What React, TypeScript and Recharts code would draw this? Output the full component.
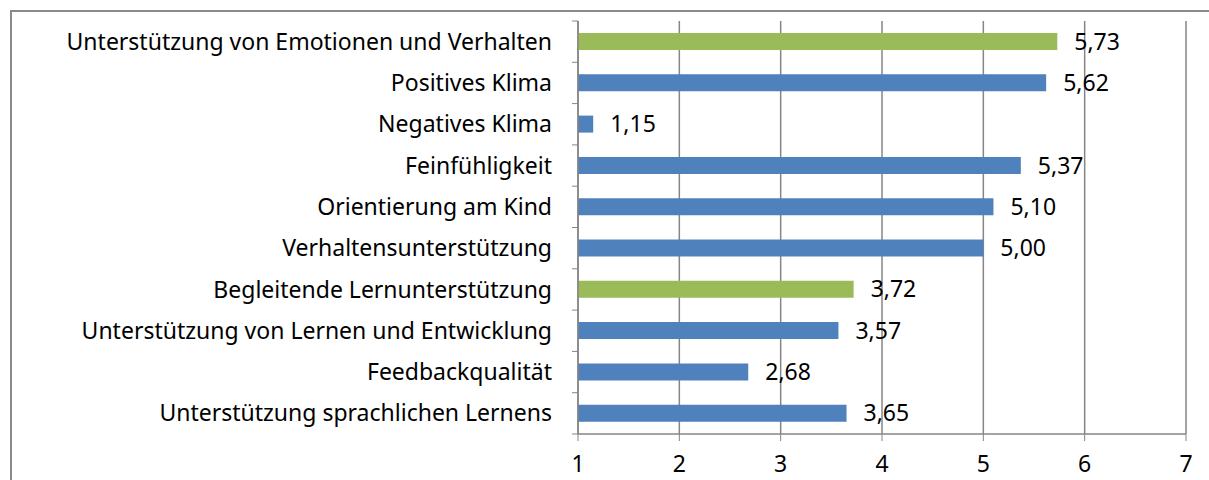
import { BarChart, Bar, XAxis, YAxis, CartesianGrid, Cell, LabelList } from "recharts"

const categories = [
  "Unterstützung von Emotionen und Verhalten",
  "Positives Klima",
  "Negatives Klima",
  "Feinfühligkeit",
  "Orientierung am Kind",
  "Verhaltensunterstützung",
  "Begleitende Lernunterstützung",
  "Unterstützung von Lernen und Entwicklung",
  "Feedbackqualität",
  "Unterstützung sprachlichen Lernens",
]

const scores = [5.73, 5.62, 1.15, 5.37, 5.1, 5.0, 3.72, 3.57, 2.68, 3.65]

// domain summary rows are drawn in green
const summaryRows = ["Unterstützung von Emotionen und Verhalten", "Begleitende Lernunterstützung"]

const xTicks = [1, 2, 3, 4, 5, 6, 7]

const data = categories.map((name, i) => ({ name, value: scores[i] }))

const BLUE = "#4F81BD"
const GREEN = "#9BBB59"
const GRID = "#868686"
const FONT = "'Noto Sans', 'Open Sans', sans-serif"
const FS = 23

const PLOT_TOP = 21
const PLOT_BOTTOM = 434
const BAND = (PLOT_BOTTOM - PLOT_TOP) / categories.length

function CategoryTick({ x, y, payload, index }: { x?: number; y?: number; payload?: { value: string }; index?: number }) {
  const ax = (x ?? 0) + 26
  const cy = y ?? 0
  return (
    <g>
      <line x1={ax - 6} x2={ax} y1={cy - BAND / 2} y2={cy - BAND / 2} stroke={GRID} />
      {index === categories.length - 1 && (
        <line x1={ax - 6} x2={ax} y1={cy + BAND / 2} y2={cy + BAND / 2} stroke={GRID} />
      )}
      <text x={x} y={cy} dy="0.35em" textAnchor="end" fill="#000" fontSize={FS} fontFamily={FONT}>
        {payload?.value}
      </text>
    </g>
  )
}

const fmt = (v: unknown) => Number(v).toFixed(2).replace(".", ",")

export default function App() {
  return (
    <div style={{ position: "fixed", left: 0, top: 0, width: 1209, height: 480, overflow: "hidden", background: "#fff" }}>
      <div
        style={{
          position: "absolute",
          left: 10,
          top: 10,
          width: 1260,
          height: 520,
          border: "2px solid #8a8a8a",
          boxSizing: "border-box",
        }}
      />
      <div style={{ position: "absolute", left: 0, top: 0 }}>
        <BarChart
          width={1209}
          height={480}
          data={data}
          layout="vertical"
          margin={{ top: PLOT_TOP, right: 23, bottom: 6, left: 0 }}
          barCategoryGap={0}
        >
          <CartesianGrid horizontal={false} stroke={GRID} strokeWidth={1.5} />
          <XAxis
            type="number"
            domain={[1, 7]}
            ticks={xTicks}
            height={40}
            interval={0}
            stroke={GRID}
            tickSize={7}
            tickMargin={15}
            tick={{ fill: "#000", fontSize: FS, fontFamily: FONT }}
            axisLine={{ stroke: GRID, strokeWidth: 1.5 }}
          />
          <YAxis
            type="category"
            dataKey="name"
            width={578}
            interval={0}
            tickLine={false}
            tickSize={0}
            tickMargin={26}
            axisLine={{ stroke: GRID, strokeWidth: 1.5 }}
            tick={<CategoryTick />}
          />
          <Bar dataKey="value" barSize={17} isAnimationActive={false}>
            {data.map((d) => (
              <Cell key={d.name} fill={summaryRows.includes(d.name) ? GREEN : BLUE} />
            ))}
            <LabelList
              dataKey="value"
              position="right"
              offset={17}
              formatter={fmt}
              fill="#000"
              fontSize={FS}
              fontFamily={FONT}
            />
          </Bar>
        </BarChart>
      </div>
    </div>
  )
}
